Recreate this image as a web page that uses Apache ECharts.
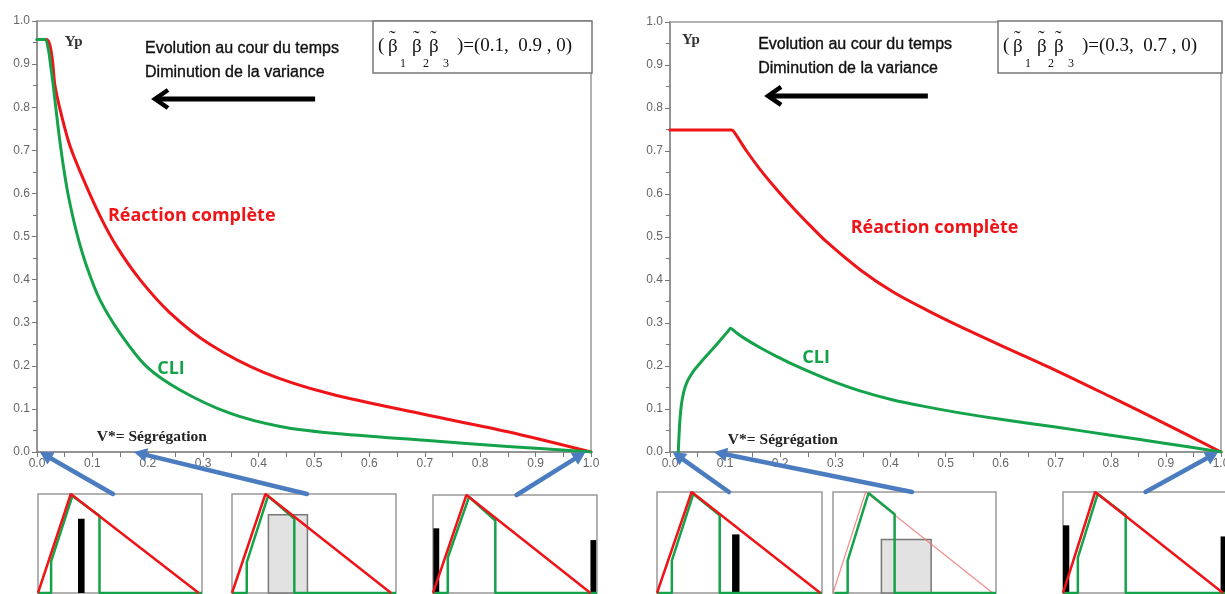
<!DOCTYPE html>
<html>
<head>
<meta charset="utf-8">
<script src="https://cdn.jsdelivr.net/npm/echarts@6/dist/echarts.min.js"></script>
<style>
  html, body { margin: 0; padding: 0; background: #ffffff; }
  #chart { width: 1225px; height: 594px; }
</style>
</head>
<body>
<div id="chart"></div>
<script>
// ---- Tick labels shared by both main plots ----
const tickLabels = ['0.0', '0.1', '0.2', '0.3', '0.4', '0.5', '0.6', '0.7', '0.8', '0.9', '1.0'];

// ---- Left plot, (β1, β2, β3) = (0.1, 0.9, 0): Yp versus variance ----
const leftReaction = [
  [0, 0.957], [0.0175, 0.957], [0.0235, 0.943], [0.0283, 0.904], [0.0325, 0.850], [0.0445, 0.780],
  [0.0596, 0.710], [0.0836, 0.633], [0.1137, 0.548], [0.1438, 0.477], [0.1859, 0.400],
  [0.240, 0.323], [0.312, 0.250], [0.409, 0.185], [0.529, 0.135], [0.7, 0.087], [0.85, 0.047],
  [1.0, 0]
];
const leftCLI = [
  [0, 0.957], [0.0144, 0.957], [0.0204, 0.935], [0.0247, 0.896], [0.0294, 0.850], [0.0385, 0.749],
  [0.0475, 0.664], [0.0565, 0.595], [0.0716, 0.509], [0.0896, 0.431], [0.1137, 0.353],
  [0.1498, 0.276], [0.198, 0.198], [0.258, 0.144], [0.348, 0.090], [0.439, 0.059], [0.529, 0.044],
  [0.7, 0.027], [0.85, 0.013], [1.0, 0]
];

// ---- Right plot, (β1, β2, β3) = (0.3, 0.7, 0) ----
const rightReaction = [
  [0, 0.749], [0.112, 0.749], [0.118, 0.741], [0.139, 0.700], [0.163, 0.658], [0.194, 0.610],
  [0.224, 0.567], [0.254, 0.527], [0.284, 0.489], [0.345, 0.424], [0.405, 0.372], [0.466, 0.330],
  [0.526, 0.292], [0.6, 0.248], [0.7, 0.190], [0.8, 0.128], [0.9, 0.065], [1.0, 0]
];
const rightCLI = [
  [0.015, 0], [0.0163, 0.036], [0.018, 0.074], [0.021, 0.113], [0.025, 0.140], [0.030, 0.160],
  [0.036, 0.175], [0.045, 0.192], [0.054, 0.206], [0.067, 0.225], [0.079, 0.242], [0.094, 0.264],
  [0.106, 0.282], [0.110, 0.288], [0.118, 0.280], [0.133, 0.266], [0.163, 0.243], [0.194, 0.222],
  [0.224, 0.203], [0.284, 0.170], [0.345, 0.142], [0.405, 0.121], [0.466, 0.105], [0.526, 0.091],
  [0.6, 0.076], [0.7, 0.058], [0.8, 0.039], [0.9, 0.020], [1.0, 0]
];

// ---- Small distribution sketches under each plot (x and height as fractions of the box) ----
// reaction: triangular pdf; cli: truncated pdf; diracs / uniform: [x0, x1, height]
const insetL1Reaction = [[0, 0], [0.2, 1], [0.98, 0]];
const insetL1CLI = [[0, 0], [0.08, 0], [0.08, 0.32], [0.21, 0.98], [0.375, 0.78], [0.375, 0], [1, 0]];
const insetL1Diracs = [[0.244, 0.284, 0.75]];

const insetL2Reaction = [[0, 0], [0.204, 1], [0.97, 0]];
const insetL2CLI = [[0, 0], [0.09, 0], [0.09, 0.31], [0.22, 0.98], [0.38, 0.75], [0.38, 0], [1, 0]];
const insetL2Uniform = [[0.222, 0.46, 0.79]];

const insetL3Reaction = [[0, 0], [0.204, 1], [0.96, 0]];
const insetL3CLI = [[0, 0], [0.09, 0], [0.09, 0.36], [0.22, 0.98], [0.38, 0.74], [0.38, 0], [1, 0]];
const insetL3Diracs = [[0.002, 0.038, 0.66], [0.96, 0.995, 0.54]];

const insetR1Reaction = [[0, 0], [0.21, 1], [0.99, 0]];
const insetR1CLI = [[0, 0], [0.09, 0], [0.09, 0.32], [0.22, 0.98], [0.38, 0.77], [0.38, 0], [1, 0]];
const insetR1Diracs = [[0.455, 0.5, 0.58]];

const insetR2Reaction = [[0, 0], [0.2, 1], [0.98, 0]];
const insetR2CLI = [[0.01, 0], [0.09, 0], [0.09, 0.32], [0.218, 0.99], [0.378, 0.78], [0.378, 0], [1, 0]];
const insetR2Uniform = [[0.297, 0.602, 0.53]];

const insetR3Reaction = [[0, 0], [0.195, 1], [0.97, 0]];
const insetR3CLI = [[0, 0], [0.09, 0], [0.09, 0.35], [0.21, 0.98], [0.38, 0.77], [0.38, 0], [1, 0]];
const insetR3Diracs = [[0, 0.038, 0.67], [0.955, 0.995, 0.56]];

// Parameter values shown in the boxes
const leftBetas = '0.1,  0.9 , 0';
const rightBetas = '0.3,  0.7 , 0';

// ---- Styling ----
const RED = '#ee1418';
const GREEN = '#14a24a';
const BLUE = '#4a7cbf';
const AXIS = '#8a8a8a';

const chart = echarts.init(document.getElementById('chart'), null, { renderer: 'canvas' });

function mainXAxis(gi) {
  return {
    gridIndex: gi, type: 'value', min: 0, max: 1, interval: 0.1,
    axisLine: { show: true, onZero: false, lineStyle: { color: AXIS, width: 1.5 } },
    axisTick: { show: true, length: 5, lineStyle: { color: '#777' } },
    minorTick: { show: true, splitNumber: 2, length: 5, lineStyle: { color: '#777' } },
    axisLabel: {
      color: '#666', fontSize: 12, margin: 6, fontFamily: 'Liberation Sans',
      alignMinLabel: 'center', alignMaxLabel: 'center',
      formatter: v => tickLabels[Math.round(v * 10)]
    },
    splitLine: { show: false }
  };
}
function mainYAxis(gi) {
  return {
    gridIndex: gi, type: 'value', min: 0, max: 1, interval: 0.1,
    axisLine: { show: true, onZero: false, lineStyle: { color: AXIS, width: 1.5 } },
    axisTick: { show: true, length: 5, lineStyle: { color: '#777' } },
    minorTick: { show: true, splitNumber: 2, length: 4, lineStyle: { color: '#777' } },
    axisLabel: {
      color: '#666', fontSize: 12, margin: 7, fontFamily: 'Liberation Sans',
      formatter: v => tickLabels[Math.round(v * 10)]
    },
    splitLine: { show: false }
  };
}
function insetAxis(gi) {
  return {
    gridIndex: gi, type: 'value', min: 0, max: 1,
    show: false, splitLine: { show: false }
  };
}

// grid rectangles: two main plots, then six sketch boxes
const grids = [
  { left: 37, top: 21, width: 554, height: 431 },
  { left: 670, top: 22, width: 551, height: 430 },
  { left: 38, top: 494, width: 164, height: 99 },
  { left: 232, top: 494, width: 164, height: 99 },
  { left: 433, top: 495, width: 164, height: 98 },
  { left: 657, top: 492, width: 165, height: 101 },
  { left: 833, top: 492, width: 163, height: 101 },
  { left: 1063, top: 492, width: 165, height: 101 }
].map(g => Object.assign({
  show: true, borderColor: '#999', borderWidth: 1.5, backgroundColor: 'transparent',
  containLabel: false, outerBoundsMode: 'none'
}, g));

const xAxes = [mainXAxis(0), mainXAxis(1)];
const yAxes = [mainYAxis(0), mainYAxis(1)];
for (let i = 2; i < 8; i++) { xAxes.push(insetAxis(i)); yAxes.push(insetAxis(i)); }

function curve(name, data, idx, color) {
  return {
    name, type: 'line', xAxisIndex: idx, yAxisIndex: idx, data,
    showSymbol: false, smooth: 0.3,
    lineStyle: { color, width: 3, join: 'round', cap: 'round' }, z: 3
  };
}
function sketchLine(data, idx, color, width, opacity) {
  return {
    type: 'line', xAxisIndex: idx, yAxisIndex: idx, data,
    showSymbol: false, smooth: false,
    lineStyle: { color, width, opacity: opacity == null ? 1 : opacity }, z: 4
  };
}
function renderBlock(params, api) {
  const top = api.coord([api.value(0), api.value(2)]);
  const bottom = api.coord([api.value(1), 0]);
  return {
    type: 'rect',
    shape: { x: top[0], y: top[1], width: bottom[0] - top[0], height: bottom[1] - top[1] },
    style: api.style()
  };
}
function blocks(data, idx, fill, stroke) {
  return {
    type: 'custom', xAxisIndex: idx, yAxisIndex: idx, data, renderItem: renderBlock,
    itemStyle: { color: fill, borderColor: stroke, borderWidth: stroke ? 1.5 : 0 }, z: 2
  };
}

const series = [
  curve('Réaction complète', leftReaction, 0, RED),
  curve('CLI', leftCLI, 0, GREEN),
  curve('Réaction complète', rightReaction, 1, RED),
  curve('CLI', rightCLI, 1, GREEN),

  blocks(insetL1Diracs, 2, '#000000'),
  sketchLine(insetL1CLI, 2, GREEN, 2.5),
  sketchLine(insetL1Reaction, 2, RED, 2.5),

  blocks(insetL2Uniform, 3, '#e2e2e2', '#777777'),
  sketchLine(insetL2CLI, 3, GREEN, 2.5),
  sketchLine(insetL2Reaction, 3, RED, 2.5),

  blocks(insetL3Diracs, 4, '#000000'),
  sketchLine(insetL3CLI, 4, GREEN, 2.5),
  sketchLine(insetL3Reaction, 4, RED, 2.5),

  blocks(insetR1Diracs, 5, '#000000'),
  sketchLine(insetR1CLI, 5, GREEN, 2.5),
  sketchLine(insetR1Reaction, 5, RED, 2.5),

  blocks(insetR2Uniform, 6, '#e2e2e2', '#777777'),
  sketchLine(insetR2Reaction, 6, '#f07070', 1.2, 0.8),
  sketchLine(insetR2CLI, 6, GREEN, 2.5),

  blocks(insetR3Diracs, 7, '#000000'),
  sketchLine(insetR3CLI, 7, GREEN, 2.5),
  sketchLine(insetR3Reaction, 7, RED, 2.5)
];

chart.setOption({
  animation: false,
  backgroundColor: '#ffffff',
  grid: grids,
  xAxis: xAxes,
  yAxis: yAxes,
  series
});

// ---- Annotations: placed from data coordinates of each plot ----
const toPx = (gi, pt) => chart.convertToPixel({ gridIndex: gi }, pt);
const graphics = [];

function text(gi, pt, str, style) {
  const p = toPx(gi, pt);
  graphics.push({
    type: 'text', x: p[0], y: p[1], z: 10,
    style: Object.assign({ text: str, verticalAlign: 'middle', align: 'left' }, style)
  });
}

function arrowHead(tip, from, len, half) {
  const dx = tip[0] - from[0], dy = tip[1] - from[1];
  const d = Math.hypot(dx, dy), ux = dx / d, uy = dy / d;
  const bx = tip[0] - ux * len, by = tip[1] - uy * len;
  return [tip, [bx - uy * half, by + ux * half], [bx + uy * half, by - ux * half]];
}

function blueArrow(fromGrid, fromPt, toGrid, toPt) {
  const a = toPx(fromGrid, fromPt);
  const b = toPx(toGrid, toPt);
  const pts = arrowHead(b, a, 13, 7);
  const dx = b[0] - a[0], dy = b[1] - a[1], d = Math.hypot(dx, dy);
  const end = [b[0] - dx / d * 10, b[1] - dy / d * 10];
  graphics.push({
    type: 'line', z: 12,
    shape: { x1: a[0], y1: a[1], x2: end[0], y2: end[1] },
    style: { stroke: BLUE, lineWidth: 4.5, lineCap: 'round' }
  });
  graphics.push({ type: 'polygon', z: 12, shape: { points: pts }, style: { fill: BLUE } });
}

function timeArrow(gi, y, x0, x1) {
  const a = toPx(gi, [x0, y]);
  const b = toPx(gi, [x1, y]);
  graphics.push({
    type: 'line', z: 10,
    shape: { x1: a[0], y1: a[1], x2: b[0] + 2, y2: b[1] },
    style: { stroke: '#000', lineWidth: 5 }
  });
  graphics.push({
    type: 'polyline', z: 10,
    shape: { points: [[b[0] + 13, b[1] - 9], [b[0], b[1]], [b[0] + 13, b[1] + 9]] },
    style: { stroke: '#000', lineWidth: 4.5, fill: null, lineJoin: 'miter' }
  });
}

function betaBox(x, y, w, h, values) {
  const serif = 'Liberation Serif';
  const children = [
    { type: 'rect', shape: { x: 0, y: 0, width: w, height: h }, style: { fill: '#fff', stroke: '#777', lineWidth: 1.5 } }
  ];
  const put = (cx, cy, s, size) => children.push({
    type: 'text', x: cx, y: cy,
    style: { text: s, font: size + 'px "' + serif + '"', fill: '#111', verticalAlign: 'middle', align: 'left' }
  });
  const beta = (cx, subX, subText) => {
    put(cx, 26, 'β', 19);
    put(cx + 1, 19, '\u02DC', 20);
    put(subX, 43, subText, 12);
  };
  put(5, 25, '(', 19);
  beta(15, 27, '1');
  beta(39, 50, '2');
  beta(56, 70, '3');
  put(84, 25, ')=(' + values + ')', 19);
  graphics.push({ type: 'group', x, y, z: 11, children });
}

const titleStyle = { fill: '#111', font: '16px "Liberation Sans"', stroke: '#111', lineWidth: 0.35 };
const segStyle = { fill: '#222', font: 'bold 15.5px "Liberation Serif"' };
const ypStyle = { fill: '#333', font: 'bold 15px "Liberation Serif"' };
const redLab = { fill: RED, font: 'bold 18px "Open Sans"' };
const greenLab = { fill: GREEN, font: 'bold 18px "Open Sans"' };

// left plot annotations
text(0, [0.05, 0.951], 'Yp', ypStyle);
text(0, [0.195, 0.935], 'Evolution au cour du temps', titleStyle);
text(0, [0.195, 0.881], 'Diminution de la variance', titleStyle);
timeArrow(0, 0.819, 0.502, 0.213);
text(0, [0.128, 0.547], 'Réaction complète', redLab);
text(0, [0.217, 0.193], 'CLI', greenLab);
text(0, [0.108, 0.035], 'V*= Ségrégation', segStyle);
betaBox(373, 21, 219, 52, leftBetas);

// right plot annotations
text(1, [0.022, 0.958], 'Yp', ypStyle);
text(1, [0.16, 0.947], 'Evolution au cour du temps', titleStyle);
text(1, [0.16, 0.891], 'Diminution de la variance', titleStyle);
timeArrow(1, 0.828, 0.468, 0.178);
text(1, [0.328, 0.521], 'Réaction complète', redLab);
text(1, [0.24, 0.219], 'CLI', greenLab);
text(1, [0.105, 0.028], 'V*= Ségrégation', segStyle);
betaBox(998, 21, 224, 52, rightBetas);

// arrows linking each sketch to its position on the variance axis
blueArrow(2, [0.457, 1], 0, [0.005, 0]);
blueArrow(3, [0.457, 1], 0, [0.175, 0]);
blueArrow(4, [0.51, 1], 0, [0.99, 0]);
blueArrow(5, [0.436, 1], 1, [0.005, 0]);
blueArrow(6, [0.485, 1], 1, [0.08, 0]);
blueArrow(7, [0.5, 1], 1, [0.995, 0]);

chart.setOption({ graphic: graphics });
</script>
</body>
</html>
